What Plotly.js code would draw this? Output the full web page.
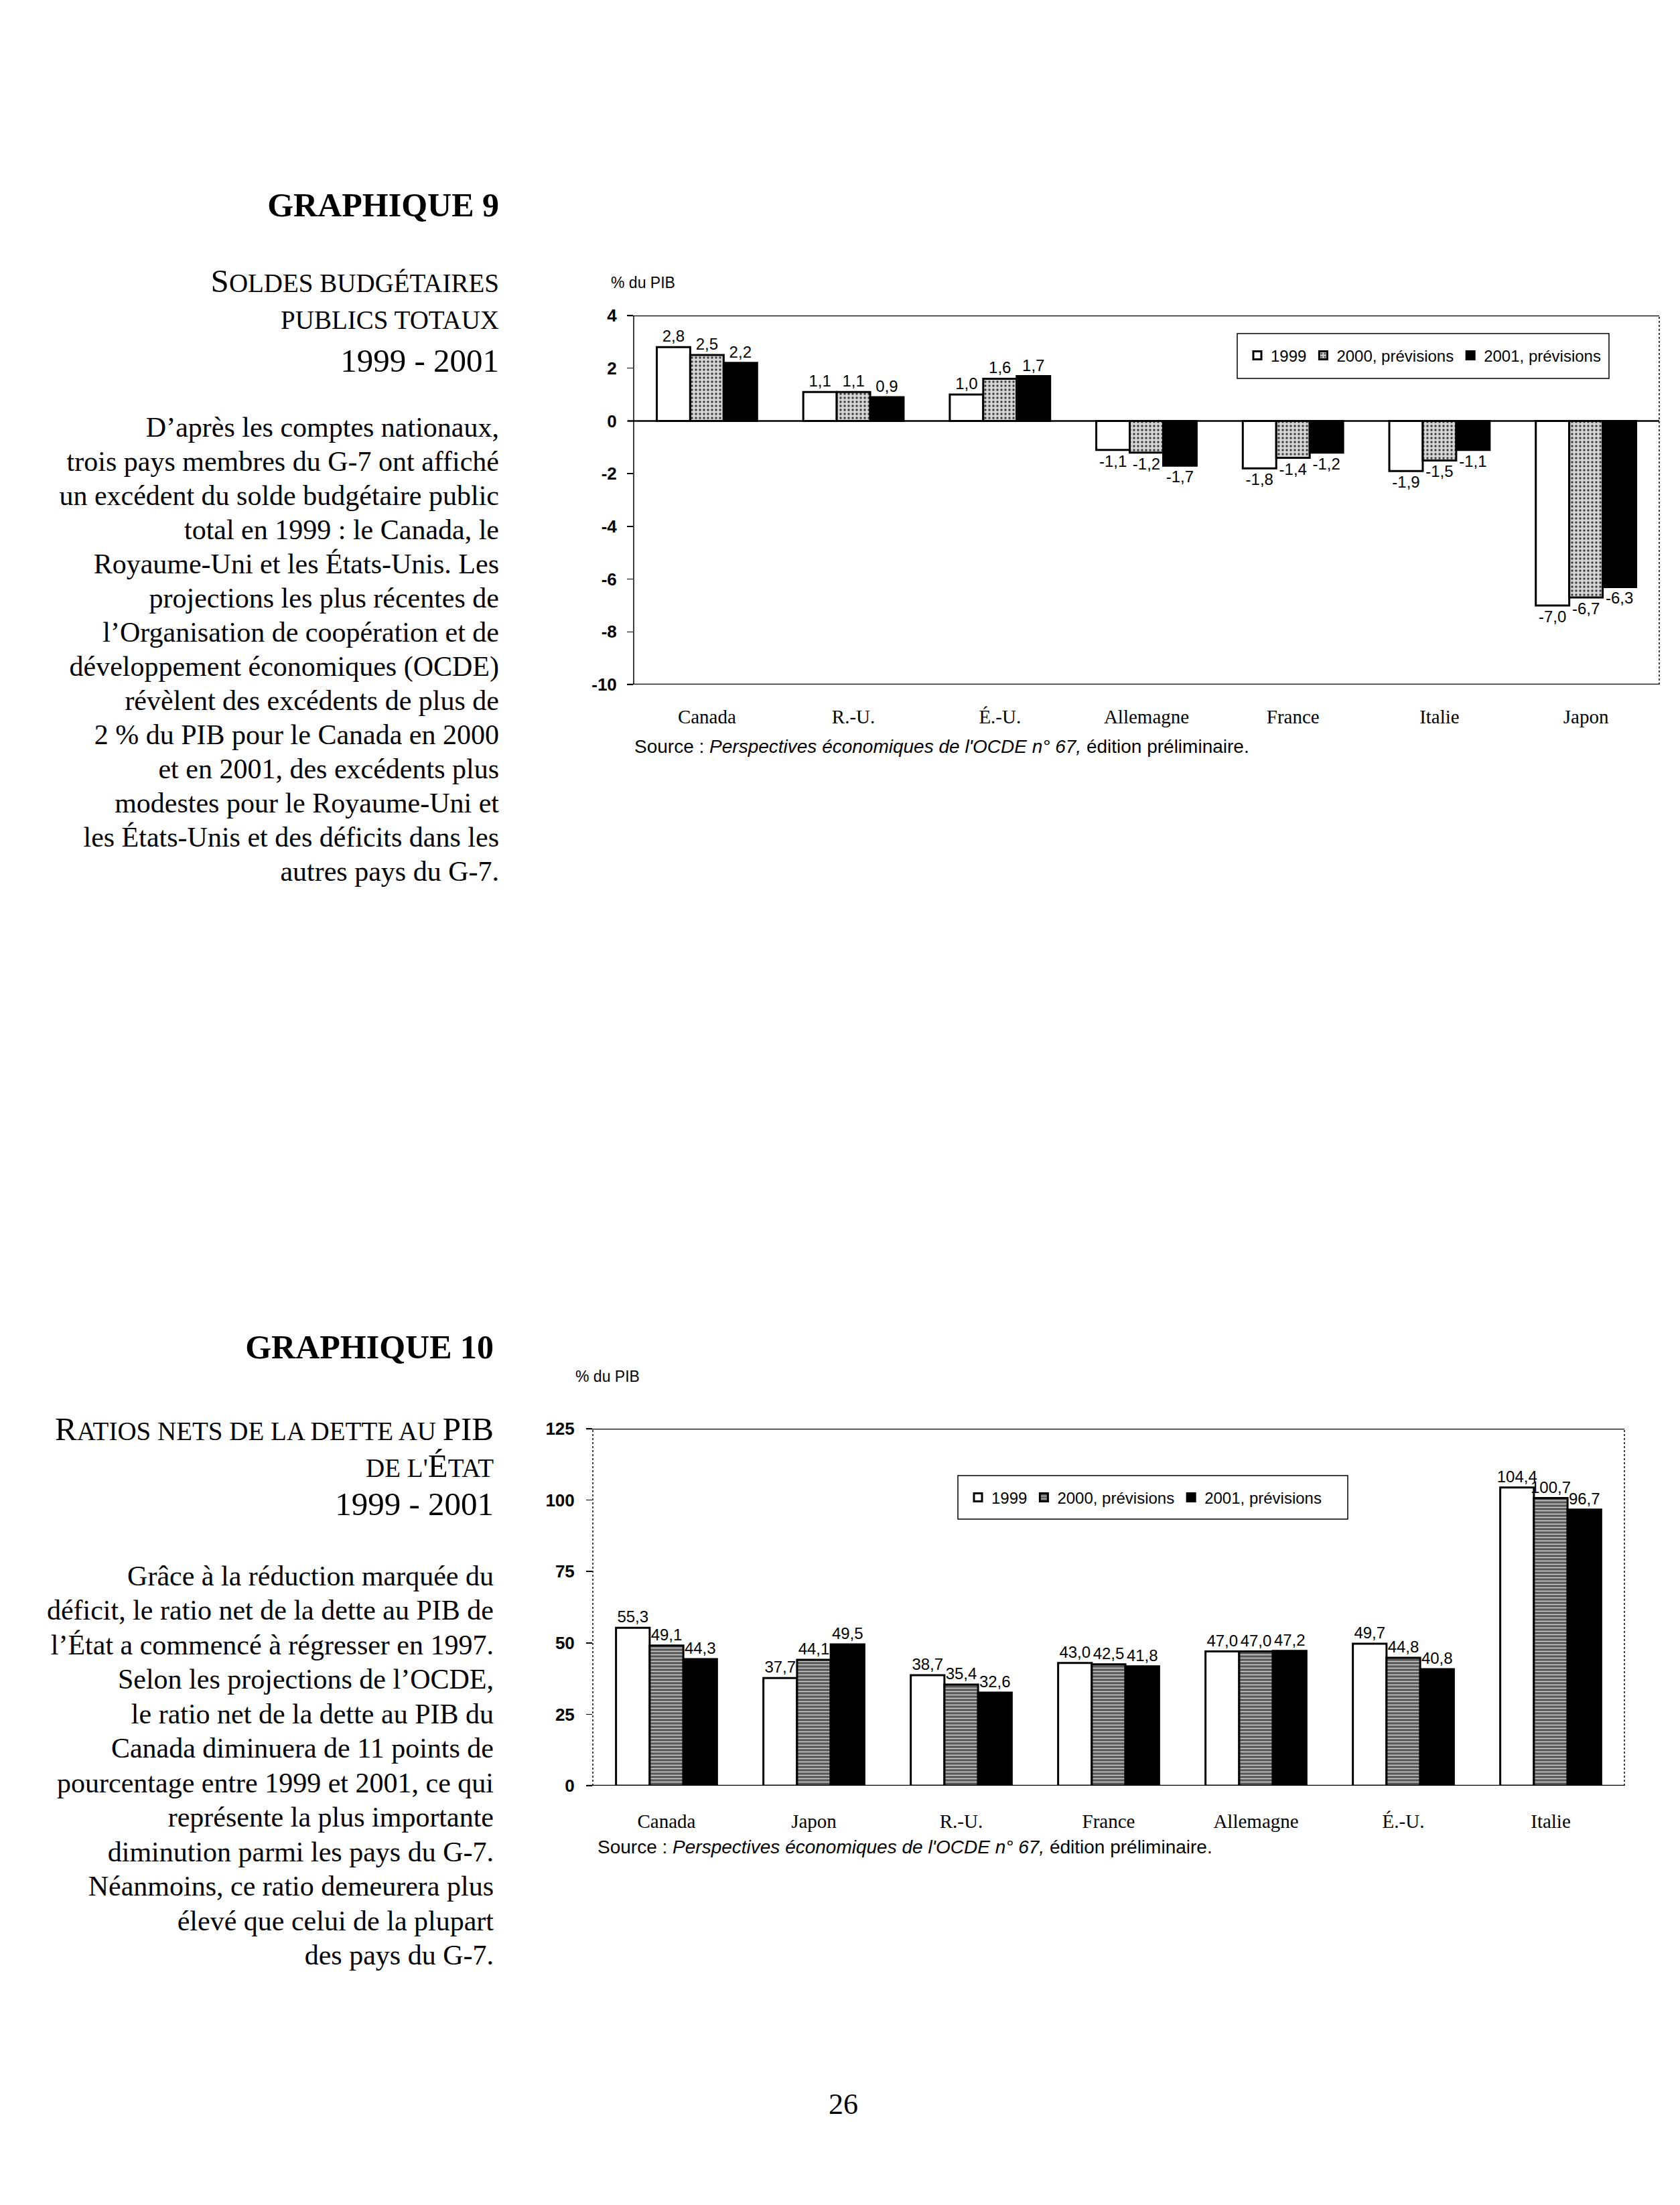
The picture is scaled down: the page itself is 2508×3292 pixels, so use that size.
<!DOCTYPE html>
<html><head><meta charset="utf-8">
<script src="https://cdn.plot.ly/plotly-3.0.1.min.js"></script>
<style>
html,body{margin:0;padding:0;background:#fff;}
#page{position:relative;width:2508px;height:3292px;overflow:hidden;background:#fff;}
#chart{position:absolute;left:0;top:0;width:2508px;height:3292px;}
.txt{position:absolute;font-family:'Liberation Serif','Times New Roman',serif;color:#000;text-align:right;white-space:nowrap;z-index:5;}
.ln{font-size:39px;line-height:60px;height:60px;}
.sc{font-size:39px;}
.bg{font-size:49px;}
.para{font-size:42px;line-height:51px;}
</style></head><body>
<div id="page">
<div id="chart"></div>

<div class="txt" style="top:276px;right:1763px;font-size:50px;line-height:60px;font-weight:bold;">GRAPHIQUE 9</div>
<div class="txt ln" style="top:390px;right:1763px;"><span class="bg">S</span><span class="sc">OLDES BUDGÉTAIRES</span></div>
<div class="txt ln" style="top:448px;right:1763px;"><span class="sc">PUBLICS TOTAUX</span></div>
<div class="txt ln" style="top:509px;right:1763px;"><span class="bg">1999 - 2001</span></div>
<div class="txt para" style="top:613px;right:1763px;">D’après les comptes nationaux,<br>trois pays membres du G-7 ont affiché<br>un excédent du solde budgétaire public<br>total en 1999 : le Canada, le<br>Royaume-Uni et les États-Unis. Les<br>projections les plus récentes de<br>l’Organisation de coopération et de<br>développement économiques (OCDE)<br>révèlent des excédents de plus de<br>2 % du PIB pour le Canada en 2000<br>et en 2001, des excédents plus<br>modestes pour le Royaume-Uni et<br>les États-Unis et des déficits dans les<br>autres pays du G-7.</div>

<div class="txt" style="top:1981px;right:1771px;font-size:50px;line-height:60px;font-weight:bold;">GRAPHIQUE 10</div>
<div class="txt ln" style="top:2104px;right:1771px;"><span class="bg">R</span><span class="sc">ATIOS NETS DE LA DETTE AU </span><span class="bg">PIB</span></div>
<div class="txt ln" style="top:2159px;right:1771px;"><span class="sc">DE L'</span><span class="bg">É</span><span class="sc">TAT</span></div>
<div class="txt ln" style="top:2216px;right:1771px;"><span class="bg">1999 - 2001</span></div>
<div class="txt para" style="top:2328px;right:1771px;line-height:51.45px;">Grâce à la réduction marquée du<br>déficit, le ratio net de la dette au PIB de<br>l’État a commencé à régresser en 1997.<br>Selon les projections de l’OCDE,<br>le ratio net de la dette au PIB du<br>Canada diminuera de 11 points de<br>pourcentage entre 1999 et 2001, ce qui<br>représente la plus importante<br>diminution parmi les pays du G-7.<br>Néanmoins, ce ratio demeurera plus<br>élevé que celui de la plupart<br>des pays du G-7.</div>

<div class="txt" style="top:3117px;left:1219px;width:80px;text-align:center;font-size:44px;line-height:50px;">26</div>
</div>
<script>
// ---- Data ----
const categories1 = ['Canada', 'R.-U.', 'É.-U.', 'Allemagne', 'France', 'Italie', 'Japon'];
const solde1999 = [2.8, 1.1, 1.0, -1.1, -1.8, -1.9, -7.0];
const solde2000 = [2.5, 1.1, 1.6, -1.2, -1.4, -1.5, -6.7];
const solde2001 = [2.2, 0.9, 1.7, -1.7, -1.2, -1.1, -6.3];

const categories2 = ['Canada', 'Japon', 'R.-U.', 'France', 'Allemagne', 'É.-U.', 'Italie'];
const dette1999 = [55.3, 37.7, 38.7, 43.0, 47.0, 49.7, 104.4];
const dette2000 = [49.1, 44.1, 35.4, 42.5, 47.0, 44.8, 100.7];
const dette2001 = [44.3, 49.5, 32.6, 41.8, 47.2, 40.8, 96.7];

const seriesNames = ['1999', '2000, prévisions', '2001, prévisions'];
const yTickVals1 = [4, 2, 0, -2, -4, -6, -8, -10];
const yTickText1 = ['4', '2', '0', '-2', '-4', '-6', '-8', '-10'];
const yTickVals2 = [0, 25, 50, 75, 100, 125];
const yTickText2 = ['0', '25', '50', '75', '100', '125'];
const unitLabel = '% du PIB';
const sourceText = 'Source : <i>Perspectives économiques de l\'OCDE n° 67,</i> édition préliminaire.';

// ---- Layout helpers ----
const W = 2508, H = 3292;
const px = v => v / W;
const py = v => 1 - v / H;
const fmt = v => v.toFixed(1).replace('.', ',');
const SANS = 'Liberation Sans, Arial, sans-serif';
const SERIF = 'Liberation Serif, Times New Roman, serif';

const styles1 = [
  {color: '#ffffff'},
  {color: '#cfcfcf', pattern: {shape: '.', bgcolor: '#d4d4d4', fgcolor: '#3a3a3a', size: 6, solidity: 0.25}},
  {color: '#000000'}
];
const styles2 = [
  {color: '#ffffff'},
  {color: '#777777', pattern: {shape: '-', bgcolor: '#5a5a5a', fgcolor: '#d0d0d0', size: 5, solidity: 0.3}},
  {color: '#000000'}
];

function mk(cats, vals, i, st, xa, ya, leg) {
  const m = {color: st.color, line: {color: '#000', width: 3}};
  if (st.pattern) m.pattern = st.pattern;
  return {
    type: 'bar', x: cats, y: vals, name: seriesNames[i],
    xaxis: xa, yaxis: ya, legend: leg,
    marker: m,
    text: vals.map(fmt), textposition: 'outside', constraintext: 'none', cliponaxis: false,
    textfont: {family: SANS, size: 24, color: '#000'},
    hoverinfo: 'skip'
  };
}

const s1 = [solde1999, solde2000, solde2001];
const s2 = [dette1999, dette2000, dette2001];
const data = [];
s1.forEach((v, i) => data.push(mk(categories1, v, i, styles1[i], 'x', 'y', 'legend')));
s2.forEach((v, i) => data.push(mk(categories2, v, i, styles2[i], 'x2', 'y2', 'legend2')));

const line = (xref, yref, x0, x1, y0, y1, w, dash) => ({
  type: 'line', xref: xref, yref: yref, x0: x0, x1: x1, y0: y0, y1: y1,
  line: {color: '#000', width: w, dash: dash || 'solid'}, layer: 'below'
});

const shapes = [
  // chart 1 frame
  line('x domain', 'y', -0.006, 1, 4, 4, 2.5),
  line('x domain', 'y', -0.006, 1, 0, 0, 2.5),
  line('x domain', 'y', -0.006, 1, -10, -10, 2.5),
  line('x domain', 'y domain', 0, 0, 0, 1, 1.5),
  line('x domain', 'y domain', 1, 1, 0, 1, 1.5, 'dot'),
  // chart 2 frame
  line('x2 domain', 'y2', -0.006, 1, 125, 125, 2.5),
  line('x2 domain', 'y2', -0.006, 1, 0, 0, 2.5),
  line('x2 domain', 'y2 domain', 0, 0, 0, 1, 1.5, 'dot'),
  line('x2 domain', 'y2 domain', 1, 1, 0, 1, 1.5, 'dot'),
  // legend boxes
  {type: 'rect', xref: 'paper', yref: 'paper', x0: px(1847), x1: px(2402), y0: py(565), y1: py(498),
   line: {color: '#000', width: 1.5}, fillcolor: '#fff', layer: 'above'},
  {type: 'rect', xref: 'paper', yref: 'paper', x0: px(1430), x1: px(2012), y0: py(2268), y1: py(2203),
   line: {color: '#000', width: 1.5}, fillcolor: '#fff', layer: 'above'}
];

const xax = (dom, anchor, standoff) => ({
  domain: dom, anchor: anchor, type: 'category', showgrid: false, zeroline: false, showline: false,
  ticks: '', tickfont: {family: SERIF, size: 29, color: '#000'}, ticklabelstandoff: standoff, fixedrange: true
});
const yax = (dom, anchor, range, tv, tt, standoff) => ({
  domain: dom, anchor: anchor, range: range, tickvals: tv, ticktext: tt,
  ticks: 'outside', ticklen: 9, tickwidth: 1.5, tickcolor: '#000',
  showgrid: false, zeroline: false, showline: false,
  tickfont: {family: SANS, size: 26, color: '#000', weight: 'bold'}, ticklabelstandoff: standoff, fixedrange: true
});

const legendBase = {
  orientation: 'h', xanchor: 'left', yanchor: 'middle', bgcolor: 'rgba(0,0,0,0)', borderwidth: 0,
  font: {family: SANS, size: 24, color: '#000'}, traceorder: 'normal', itemwidth: 30, itemclick: false
};

const layout = {
  width: W, height: H, margin: {l: 0, r: 0, t: 0, b: 0},
  paper_bgcolor: '#fff', plot_bgcolor: 'rgba(0,0,0,0)',
  font: {family: SANS, color: '#000'},
  barmode: 'group', bargap: 0.315, bargroupgap: 0,
  showlegend: true,
  xaxis: xax([px(946), px(2477)], 'y', 28),
  yaxis: yax([py(1022), py(471)], 'x', [-10, 4], yTickVals1, yTickText1, 10),
  xaxis2: xax([px(885), px(2425)], 'y2', 33),
  yaxis2: yax([py(2666), py(2133)], 'x2', [0, 125], yTickVals2, yTickText2, 12),
  legend: Object.assign({}, legendBase, {x: px(1857), y: py(531)}),
  legend2: Object.assign({}, legendBase, {x: px(1440), y: py(2236)}),
  shapes: shapes,
  annotations: [
    {text: unitLabel, xref: 'paper', yref: 'paper', x: px(910), y: py(422), xanchor: 'left', yanchor: 'middle',
     showarrow: false, font: {family: SANS, size: 23, color: '#000'}},
    {text: unitLabel, xref: 'paper', yref: 'paper', x: px(857), y: py(2055), xanchor: 'left', yanchor: 'middle',
     showarrow: false, font: {family: SANS, size: 23, color: '#000'}},
    {text: sourceText, xref: 'paper', yref: 'paper', x: px(945), y: py(1114), xanchor: 'left', yanchor: 'middle',
     showarrow: false, font: {family: SANS, size: 28, color: '#000'}},
    {text: sourceText, xref: 'paper', yref: 'paper', x: px(890), y: py(2757), xanchor: 'left', yanchor: 'middle',
     showarrow: false, font: {family: SANS, size: 28, color: '#000'}}
  ]
};

Plotly.newPlot('chart', data, layout, {staticPlot: true, displayModeBar: false});
</script>
</body></html>
